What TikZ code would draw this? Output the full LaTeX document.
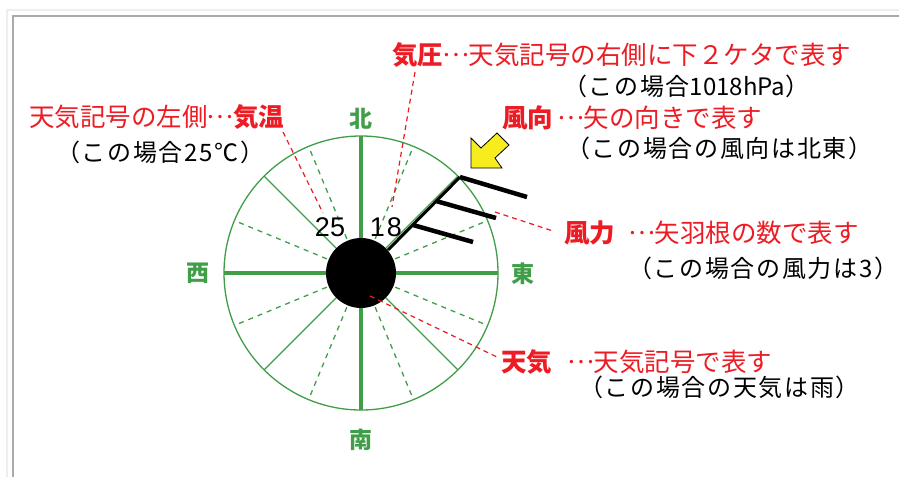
\documentclass[tikz,border=0pt]{standalone}
\usepackage{fontspec}
\newfontfamily\jp{Noto Sans CJK JP}
\newfontfamily\jpk[LetterSpace=7]{Noto Sans CJK JP}
\newfontfamily\lat{Liberation Sans}
\newcommand{\mdots}{\makebox[1em]{\raisebox{0.3em}{…}}}
\definecolor{cgreen}{RGB}{64,158,72}
\definecolor{cred}{RGB}{237,28,36}
\definecolor{cyel}{RGB}{246,236,30}
\definecolor{lgray}{RGB}{238,238,238}
\definecolor{dgray}{RGB}{170,170,170}
\begin{document}
\begin{tikzpicture}[x=1pt,y=-1pt,
  redtxt/.style={text=cred, font=\jp\fontsize{25.5}{25.5}\selectfont, anchor=west, inner sep=0pt},
  blktxt/.style={text=black, font=\jpk\fontsize{24}{24}\selectfont, anchor=west, inner sep=0pt},
  dirlbl/.style={text=cgreen, font=\jp\bfseries\fontsize{23}{23}\selectfont, inner sep=0pt},
  numlbl/.style={text=black, font=\lat\fontsize{27}{27}\selectfont, inner sep=0pt},
  majorspoke/.style={draw=cgreen, line width=4pt},
  minorspoke/.style={draw=cgreen, line width=1.3pt},
  dashspoke/.style={draw=cgreen, line width=1.3pt, dash pattern=on 5pt off 5pt},
  ring/.style={draw=cgreen, line width=1.3pt},
  leader/.style={draw=cred, line width=1.2pt, dash pattern=on 5pt off 4pt},
  barb/.style={draw=black, line width=4.5pt},
  shaft/.style={draw=black, line width=3pt},
  windarrow/.style={fill=cyel, draw=black, line width=0.8pt}
]
\useasboundingbox (0,0) rectangle (899,477);
\fill[white] (0,0) rectangle (899,477);
% frame
\draw[lgray, line width=2pt] (7,477) -- (7,10) -- (899,10);
\draw[dgray, line width=2pt] (13,477) -- (13,16) -- (899,16);

% station model
\coordinate (c) at (361,273);
\begin{scope}[shift={(c)}]
  \foreach \a in {22.5,67.5,...,337.5} \draw[dashspoke] (\a:37) -- (\a:137);
  \foreach \a in {45,135,225,315} \draw[minorspoke] (\a:34) -- (\a:137);
  \draw[majorspoke] (-137,0) -- (137,0);
  \draw[majorspoke] (0,-137) -- (0,137);
  \draw[ring] (0,0) circle[radius=137];
\end{scope}
\node[circle, fill=black, minimum size=70pt, inner sep=0pt] (dot) at (c) {};

% wind barb
\coordinate (sb) at (388,250);
\coordinate (st) at (460,177);
\draw[shaft] (sb) -- (st);
\coordinate (b1) at (527,197);
\coordinate (s2) at (436,201);
\coordinate (b2) at (496,218);
\coordinate (s3) at (413,225);
\coordinate (b3) at (473,242);
\draw[barb] (st) -- (b1);
\draw[barb] (s2) -- (b2);
\draw[barb] (s3) -- (b3);

% wind direction arrow
\draw[windarrow, shift={(471,168)}] (0,0) -- (0,-30) -- (10,-20) -- (26,-35) -- (38,-23) -- (24,-10) -- (31,0) -- cycle;

% numbers
\node[numlbl] (t25) at (330,227) {25};
\node[numlbl] (p18) at (386,227) {1\kern2pt 8};

% direction labels
\node[dirlbl] (n) at (361,119) {北};
\node[dirlbl] (s) at (361,440) {南};
\node[dirlbl] (w) at (198,273) {西};
\node[dirlbl] (e) at (523,274) {東};

% texts
\node[redtxt] (r1) at (392,55) {{\bfseries 気圧}\mdots 天気記号の右側に下２ケタで表す};
\node[blktxt] (k1) at (563,86) {（この場合{\jp 1018hPa}）};
\node[redtxt] (r2) at (502,118) {{\bfseries 風向}\hspace{5pt}\mdots 矢の向きで表す};
\node[blktxt] (k2) at (566,148) {（この場合の風向は北東）};
\node[redtxt] (r3) at (564,233) {{\bfseries 風力}\hspace{14pt}\mdots 矢羽根の数で表す};
\node[blktxt] (k3) at (628,268) {（この場合の風力は3）};
\node[redtxt] (r4) at (501,362) {{\bfseries 天気}\hspace{16pt}\mdots 天気記号で表す};
\node[blktxt] (k4) at (579,387) {（この場合の天気は雨）};
\node[redtxt] (r5) at (29,117) {天気記号の左側\mdots{\bfseries 気温}};
\node[blktxt] (k5) at (56,152) {（この場合25℃）};

% leaders
\coordinate (l1a) at (415,72);  \coordinate (l1b) at (392,207);
\coordinate (l5a) at (283,132); \coordinate (l5b) at (323,213);
\coordinate (l3a) at (495,212); \coordinate (l3b) at (553,231);
\coordinate (l4a) at (370,296); \coordinate (l4b) at (497,357);
\draw[leader] (l1a) -- (l1b);
\draw[leader] (l5a) -- (l5b);
\draw[leader] (l3a) -- (l3b);
\draw[leader] (l4a) -- (l4b);
\end{tikzpicture}
\end{document}
